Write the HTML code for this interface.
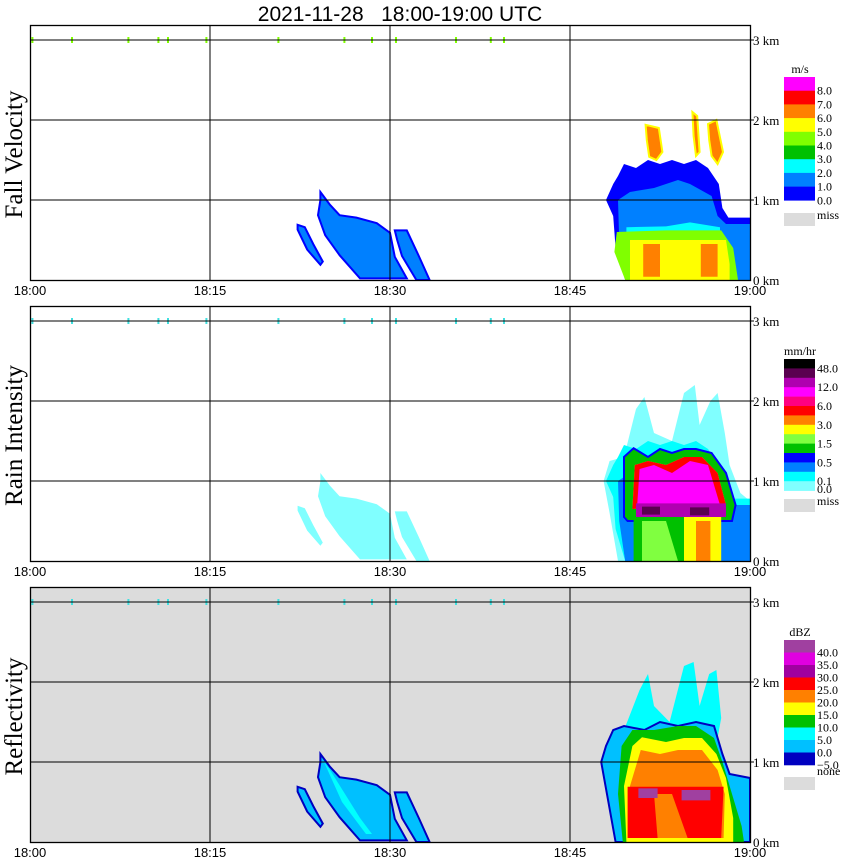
<!DOCTYPE html>
<html><head><meta charset="utf-8">
<style>
html,body{margin:0;padding:0;background:#fff;}
svg{display:block;font-family:"Liberation Serif",serif;}
</style></head>
<body>
<svg id="chart" width="850" height="868" viewBox="0 0 850 868" xmlns="http://www.w3.org/2000/svg">
<text x="400" y="21" font-size="21" text-anchor="middle" font-family="Liberation Sans, sans-serif" style="white-space:pre">2021-11-28   18:00-19:00 UTC</text>
</svg>
<script>
// ---- data ----
const timeTicks = [0, 15, 30, 45, 60];
const timeLabels = ["18:00", "18:15", "18:30", "18:45", "19:00"];
const heightTicks = [0, 1, 2, 3];
const heightLabels = ["0 km", "1 km", "2 km", "3 km"];
const markerTimes = [0.2, 3.5, 8.2, 10.7, 11.5, 14.7, 20.7, 26.2, 28.5, 30.5, 35.5, 38.4, 39.5];
const panelTitles = ["Fall Velocity", "Rain Intensity", "Reflectivity"];

const fvColors = ["#ff00ff","#ff0000","#ff8000","#ffff00","#80ff00","#00c000","#00ffff","#0080ff","#0000ff"];
const fvLabels = ["8.0","7.0","6.0","5.0","4.0","3.0","2.0","1.0","0.0"];
const riColors = ["#000000","#5a0050","#b000b0","#ff00ff","#ff0080","#ff0000","#ff8000","#ffff00","#80ff40","#00c000","#0000ff","#0080ff","#00ffff","#80ffff"];
const riLabels = ["48.0","","12.0","","6.0","","3.0","","1.5","","0.5","","0.1","0.0"];
const dzColors = ["#a040a0","#e000e0","#a000a0","#ff0000","#ff8000","#ffff00","#00c000","#00ffff","#00c0ff","#0000c0"];
const dzLabels = ["40.0","35.0","30.0","25.0","20.0","15.0","10.0","5.0","0.0","−5.0"];

// echo shapes as [minute, km] vertices
const cellA = [[24.2,1.1],[25,0.94],[25.8,0.81],[27.2,0.78],[28.9,0.71],[30,0.59],[30.4,0.29],[31.4,0.02],[27.5,0.02],[25.8,0.31],[24.6,0.56],[24,0.81],[24.2,1.0]];
const cellB = [[30.4,0.62],[31.4,0.62],[32.4,0.3],[33.3,0.0],[32.2,0.0],[31,0.3],[30.6,0.5]];
const cellC = [[22.3,0.69],[22.9,0.66],[23.6,0.45],[24.4,0.23],[24.2,0.19],[23.1,0.38],[22.3,0.63]];
const stormOuter = [[49.6,0],[48.8,0.4],[48.6,0.8],[48.0,1.0],[48.6,1.2],[49.0,1.3],[49.5,1.45],[50.5,1.4],[51.5,1.5],[52.5,1.45],[53.5,1.5],[54.5,1.45],[55.5,1.5],[56.5,1.4],[57.4,1.2],[57.7,0.9],[58.2,0.78],[60,0.78],[60,0]];
const stormMid = [[49.6,0],[49.1,0.5],[49.0,1.0],[50,1.1],[52,1.15],[54,1.25],[55,1.2],[56.8,1.05],[57.3,0.8],[58,0.7],[60,0.7],[60,0]];
const stormCyan = [[49.7,0.5],[49.7,0.66],[53,0.67],[55,0.72],[57.5,0.66],[57.5,0.5]];
const stormGreen = [[49.6,0],[48.7,0.35],[48.9,0.6],[53,0.62],[57.6,0.62],[58.6,0.4],[59,0]];
const stormYellow = [[50,0],[50,0.5],[58,0.5],[58.3,0.2],[58.3,0]];
const fvOrange1 = [[51.1,0.04],[51.1,0.45],[52.5,0.45],[52.5,0.04]];
const fvOrange2 = [[55.9,0.04],[55.9,0.45],[57.3,0.45],[57.3,0.04]];
const plume1 = [[51.3,1.94],[52.4,1.9],[52.7,1.6],[52.2,1.5],[51.6,1.54],[51.4,1.75]];
const plume2 = [[55.2,2.1],[55.6,2.05],[55.8,1.6],[55.5,1.55],[55.3,1.8]];
const plume3 = [[56.5,1.95],[57.2,2.0],[57.75,1.6],[57.3,1.45],[56.8,1.55],[56.6,1.75]];
const riCore = [[49.5,0.55],[49.5,1.3],[50.3,1.41],[51.5,1.3],[52.5,1.4],[53.5,1.35],[54.5,1.4],[55.5,1.4],[56.8,1.35],[58,1.1],[58.8,0.7],[58.5,0.5],[49.8,0.5]];
const riMag = [[50.2,0.65],[50.4,1.2],[51.5,1.25],[53,1.2],[54.5,1.3],[56,1.3],[57.3,1.1],[58,0.7]];
const riBand = [[50.5,0.55],[50.5,0.72],[58,0.72],[58,0.55]];
const riLowGreen = [[50.3,0],[50.3,0.55],[54.5,0.55],[54.5,0]];
const riLowYellow = [[54.5,0],[54.5,0.55],[57.6,0.55],[57.6,0]];
const riPlumes = [[49.5,1.3],[50.5,1.9],[51.2,2.05],[52,1.6],[53.5,1.5],[54.5,2.1],[55.4,2.2],[55.8,1.7],[56.7,2.0],[57.3,2.1],[57.9,1.6],[58.3,1.2],[59.2,0.85],[60,0.75],[60,0],[49.0,0],[48.3,0.6],[47.8,1.0],[48.3,1.25]];
const dzOuter = [[48.8,0],[48.2,0.5],[47.6,1.0],[48.0,1.2],[48.6,1.4],[49.5,1.45],[51.2,1.4],[52.5,1.5],[54,1.45],[55.5,1.5],[57,1.45],[57.7,1.1],[58.3,0.85],[60,0.8],[60,0]];
const dzGreen = [[49.4,0],[49.0,0.6],[49.3,1.2],[50.2,1.4],[52,1.4],[54,1.45],[55.5,1.45],[57,1.3],[57.7,1.0],[58.5,0.6],[59.3,0.2],[59.5,0]];
const dzYellow = [[49.7,0],[49.5,0.7],[50.2,1.2],[51,1.31],[53,1.25],[54.5,1.3],[56,1.3],[57.2,1.1],[58,0.8],[58.6,0.3],[58.6,0]];
const dzOrange = [[50,0.05],[50,0.7],[50.9,1.15],[52.5,1.1],[54,1.15],[56,1.15],[57.3,0.9],[57.9,0.6],[57.8,0.05]];
const dzRed = [[49.8,0.05],[49.8,0.69],[57.8,0.69],[57.6,0.05]];
const dzRedOrange = [[52.3,0.05],[52.0,0.6],[53.5,0.6],[54.8,0.05]];
const dzPurple1 = [[50.7,0.55],[50.7,0.67],[52.3,0.67],[52.3,0.55]];
const dzPurple2 = [[54.3,0.52],[54.3,0.65],[56.7,0.65],[56.7,0.52]];
const dzPlumes = [[49.5,1.4],[50.8,1.9],[51.5,2.1],[52,1.7],[53.3,1.5],[54.5,2.2],[55.3,2.25],[55.8,1.7],[56.6,2.1],[57.2,2.15],[57.6,1.55],[57.3,1.3],[52,1.35]];

// ---- geometry ----
const X0 = 30, X1 = 750;
const bases = [280, 561, 842];
const tops = [25, 306, 587];
const legendTops = [77, 359, 640];
const NS = "http://www.w3.org/2000/svg";
const svg = document.getElementById("chart");
function xs(t){ return X0 + t * (X1 - X0) / 60; }
function ys(h, p){ return bases[p] - h * 80; }
function el(tag, attrs, parent){
  const e = document.createElementNS(NS, tag);
  for (const k in attrs) e.setAttribute(k, attrs[k]);
  (parent || svg).appendChild(e);
  return e;
}
function poly(pts, p, fill, g, stroke){
  const e = el("polygon", {points: pts.map(q => xs(q[0]).toFixed(1) + "," + ys(q[1], p).toFixed(1)).join(" "), fill: fill}, g);
  if (stroke) { e.setAttribute("stroke", stroke); e.setAttribute("stroke-width", "2"); }
  
  
  return e;
}

for (let p = 0; p < 3; p++) {
  const g = el("g", {});
  
  
  const bg = el("rect", {x: X0, y: tops[p], width: X1 - X0, height: bases[p] - tops[p], fill: p === 2 ? "#dcdcdc" : "#fff"}, g);
  
  

  if (p === 0) {
    [[cellA,"#0080ff"],[cellB,"#0080ff"],[cellC,"#0080ff"]].forEach(c => poly(c[0], p, c[1], g, "#0000ff"));
    poly(stormOuter, p, "#0000ff", g);
    poly(stormMid, p, "#0080ff", g);
    poly(stormCyan, p, "#00ffff", g);
    poly(stormGreen, p, "#80ff00", g);
    poly(stormYellow, p, "#ffff00", g);
    poly(fvOrange1, p, "#ff8000", g);
    poly(fvOrange2, p, "#ff8000", g);
    [plume1, plume2, plume3].forEach(pl => { poly(pl, p, "#ff8000", g, "#ffff00"); });
  } else if (p === 1) {
    [cellA, cellB, cellC].forEach(c => poly(c, p, "#80ffff", g));
    poly(riPlumes, p, "#80ffff", g);
    poly(stormOuter, p, "#00ffff", g);
    poly(stormMid, p, "#0080ff", g);
    poly(riCore, p, "#0000ff", g);
    poly(riCore, p, "#00c000", g, "#0000ff");
    poly(riMag, p, "#ffff00", g);
    poly(riMag.map(q => [q[0], q[1]]), p, "#ff0000", g);
    poly([[50.6,0.7],[50.8,1.15],[52,1.2],[53.5,1.1],[55,1.25],[56.5,1.2],[57.5,0.7]], p, "#ff00ff", g);
    poly(riBand, p, "#b000b0", g);
    poly([[51,0.58],[51,0.68],[52.5,0.68],[52.5,0.58]], p, "#5a0050", g);
    poly([[55,0.57],[55,0.67],[56.6,0.67],[56.6,0.57]], p, "#5a0050", g);
    poly(riLowGreen, p, "#00c000", g);
    poly([[51,0],[51,0.5],[53,0.5],[54,0]], p, "#80ff40", g);
    poly(riLowYellow, p, "#ffff00", g);
    poly([[55.5,0],[55.5,0.5],[56.7,0.5],[56.7,0]], p, "#ff8000", g);
  } else {
    [cellA, cellB, cellC].forEach(c => poly(c, p, "#00c0ff", g, "#0000c0"));
    poly([[24.5,1.0],[25,0.9],[27.5,0.3],[28.5,0.1],[28,0.1],[26,0.5]], p, "#00ffff", g);
    poly(dzPlumes, p, "#00ffff", g);
    poly(dzOuter, p, "#00c0ff", g, "#0000c0");
    poly(dzGreen, p, "#00c000", g);
    poly(dzYellow, p, "#ffff00", g);
    poly(dzOrange, p, "#ff8000", g);
    poly(dzRed, p, "#ff0000", g);
    poly(dzRedOrange, p, "#ff8000", g);
    poly(dzPurple1, p, "#a040a0", g);
    poly(dzPurple2, p, "#a040a0", g);
  }

  // 3 km marker ticks
  markerTimes.forEach(t => {
    const m = el("rect", {x: xs(t) - 1, y: ys(3, p) - 3, width: 2, height: 6, fill: p === 0 ? "#80ff00" : "#40e0e0"}, g);
    
    
  });

  // grid
  timeTicks.slice(1, 4).forEach(t => {
    const l = el("line", {x1: xs(t), x2: xs(t), y1: tops[p], y2: bases[p], stroke: "#000", "stroke-width": 1}, g);
    
    
  });
  heightTicks.slice(1).forEach(h => {
    const l = el("line", {x1: X0, x2: X1 + 4, y1: ys(h, p), y2: ys(h, p), stroke: "#000", "stroke-width": 1}, g);
    
    
  });
  const fr = el("rect", {x: X0 + 0.5, y: tops[p] + 0.5, width: X1 - X0, height: bases[p] - tops[p], fill: "none", stroke: "#000", "stroke-width": 1.3}, g);
  
  

  heightTicks.forEach((h, i) => {
    const tx = el("text", {x: 753, y: ys(h, p) + 5, "font-size": 13}, g);
    tx.textContent = heightLabels[i];
    
    
  });
  timeTicks.forEach((t, i) => {
    const tx = el("text", {x: xs(t), y: bases[p] + 15, "font-size": 13, "text-anchor": "middle", "font-family": "Liberation Sans, sans-serif"}, g);
    tx.textContent = timeLabels[i];
    
    
  });
  const yt = el("text", {x: 0, y: 0, "font-size": 25, "text-anchor": "middle", transform: "translate(22," + ((tops[p] + bases[p]) / 2 + 2) + ") rotate(-90)"}, g);
  yt.textContent = panelTitles[p];
  
  

  // legend
  const cols = [fvColors, riColors, dzColors][p];
  const labs = [fvLabels, riLabels, dzLabels][p];
  const units = ["m/s", "mm/hr", "dBZ"][p];
  const step = [13.7, 9.4, 12.5][p];
  const lg = el("g", {}, g);
  
  
  const ut = el("text", {x: 800, y: legendTops[p] - 4, "font-size": 12, "text-anchor": "middle"}, lg);
  ut.textContent = units;
  
  
  cols.forEach((c, i) => {
    const r = el("rect", {x: 784, y: legendTops[p] + i * step, width: 31, height: step + 0.3, fill: c}, lg);
    
    
  });
  labs.forEach((s, i) => {
    if (!s) return;
    let yy = legendTops[p] + (i + 1) * step + 4;
    if (p === 1 && i === 13) yy = legendTops[p] + 13 * step + 12;
    const tx = el("text", {x: 817, y: yy, "font-size": 12}, lg);
    tx.textContent = s;
    
    
  });
  const missY = [213, 499, 777][p];
  const mb = el("rect", {x: 784, y: missY, width: 31, height: 13, fill: "#dcdcdc"}, lg);
  
  
  const mt = el("text", {x: 817, y: missY + (p === 2 ? -2 : 6), "font-size": 12}, lg);
  mt.textContent = p === 2 ? "none" : "miss";
  
  
}
</script>
</body></html>
